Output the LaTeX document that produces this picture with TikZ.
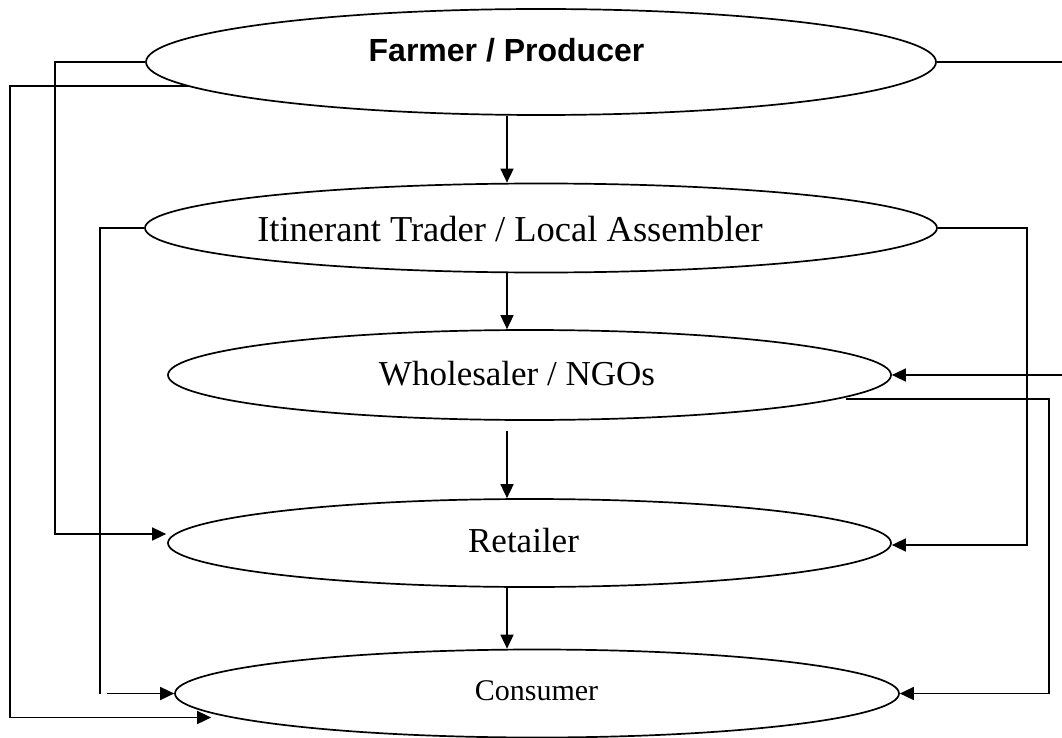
\documentclass[tikz,border=0pt]{standalone}
\usepackage{fontspec}
\setmainfont{Liberation Serif}
\newfontfamily\arialfont{Liberation Sans}
\usetikzlibrary{shapes.geometric,arrows.meta,calc}
\begin{document}
\begin{tikzpicture}[x=1pt,y=-1pt,
  box/.style={draw,ellipse,inner sep=0pt,line width=1.7pt},
  lbl/.style={anchor=base,inner sep=0pt,font=\fontsize{35}{40}\selectfont},
  conn/.style={line width=1.6pt},
  arr/.style={conn,-{Triangle[length=14pt,width=13pt]}}]
\useasboundingbox (0,0) rectangle (1062,738);
% ellipses
\node[box,minimum width=790pt,minimum height=106pt] (F) at (541,62) {};
\node[box,minimum width=792pt,minimum height=89pt] (I) at (541,228) {};
\node[box,minimum width=723pt,minimum height=90pt] (W) at (529.5,375) {};
\node[box,minimum width=723pt,minimum height=88pt] (R) at (529.5,543) {};
\node[box,minimum width=724pt,minimum height=88pt] (C) at (537,693.5) {};
% labels
\node[lbl,font=\arialfont\bfseries\fontsize{32}{36}\selectfont] (Ft) at (506.5,62) {Farmer / Producer};
\node[lbl,font=\fontsize{36.5}{42}\selectfont] (It) at (510,241) {Itinerant Trader / Local Assembler};
\node[lbl] (Wt) at (517,385) {Wholesaler / NGOs};
\node[lbl] (Rt) at (523.5,552) {Retailer};
\node[lbl,font=\fontsize{30}{35}\selectfont] (Ct) at (536.5,700) {Consumer};
% helper columns
\coordinate (colx) at (507,0);
\coordinate (L0) at (10,0);
\coordinate (L1) at (55,0);
\coordinate (L2) at (100,0);
\coordinate (L3) at (107,0);
\coordinate (R0) at (1062,0);
\coordinate (R1) at (1027,0);
\coordinate (R2) at (1049,0);
% main chain
\draw[arr] (F.south -| colx) -- (I.north -| colx);
\draw[arr] (I.south -| colx) -- (W.north -| colx);
\draw[arr] ($(W.south -| colx)+(0,10)$) -- (R.north -| colx);
\draw[arr] (R.south -| colx) -- (C.north -| colx);
% left side
\draw[arr] (F.west) -- (F.west -| L1) |- ($(R.west)+(-1,-9)$);
\draw[arr] ($(F.west)+(44,24)$) coordinate (f2) -- (f2 -| L0) |- ($(C.west)+(37,24)$);
\draw[conn] (I.west) -- (I.west -| L2) -- (C.west -| L2);
\draw[arr] (C.west -| L3) -- (C.west);
% right side
\draw[conn] (F.east) -- (F.east -| R0);
\draw[arr] (W.east -| R0) -- (W.east);
\draw[arr] (I.east) -- (I.east -| R1) |- ($(R.east)+(0,2)$);
\draw[arr] ($(W.east)+(-46,24)$) coordinate (w2) -- (w2 -| R2) |- (C.east);
\end{tikzpicture}
\end{document}
